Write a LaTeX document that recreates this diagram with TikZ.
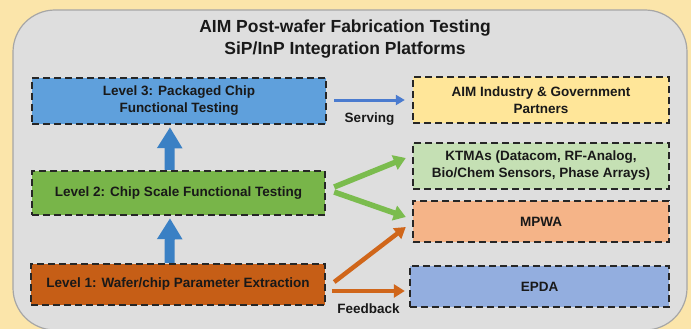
\documentclass[tikz,border=0pt]{standalone}
\usepackage{fontspec}
\setmainfont{Liberation Sans}
\usetikzlibrary{arrows.meta}
\definecolor{bgbeige}{HTML}{FBE5AA}
\definecolor{panelgray}{HTML}{DEDEDE}
\definecolor{panelline}{HTML}{A6A6A6}
\definecolor{lvthree}{HTML}{5FA0DC}
\definecolor{lvtwo}{HTML}{78B549}
\definecolor{lvone}{HTML}{C65E16}
\definecolor{aimfill}{HTML}{FFE699}
\definecolor{ktmafill}{HTML}{C5E0B4}
\definecolor{mpwafill}{HTML}{F5B488}
\definecolor{epdafill}{HTML}{93AEDF}
\definecolor{upblue}{HTML}{3A80C4}
\definecolor{serveblue}{HTML}{4A7BCF}
\definecolor{arrgreen}{HTML}{7BBC4E}
\definecolor{arrorange}{HTML}{D0661A}
\begin{document}
\begin{tikzpicture}[
   x=1pt,y=-1pt,
   font=\bfseries\fontsize{13.5}{17}\selectfont,
   box/.style={draw=black!85,line width=2.4pt,dash pattern=on 7pt off 4pt,inner sep=0pt,align=center},
   up/.style={-{Triangle[width=24pt,length=21pt]},line width=10pt,upblue,shorten >=2pt},
   serve/.style={-{Triangle[width=10pt,length=9pt]},line width=3pt,serveblue},
   kt/.style={-{Triangle[width=15pt,length=12pt]},line width=5.5pt,arrgreen},
   fb/.style={-{Triangle[width=13pt,length=11pt]},line width=4.5pt,arrorange},
   every node/.style={text=black!90}]
\useasboundingbox (0,0) rectangle (691,329);
\fill[bgbeige] (0,0) rectangle (691,329);
\draw[panelline,fill=panelgray,line width=1.2pt,rounded corners=42pt] (13,10) rectangle (687,330);
\node[align=center,font=\bfseries\fontsize{17.5}{22}\selectfont] (title) at (345,39) {AIM Post-wafer Fabrication Testing\\SiP/InP Integration Platforms};
\node[box,fill=lvthree,minimum width=294pt,minimum height=46pt] (L3) at (179,101) {Level 3: Packaged Chip\\Functional Testing};
\node[box,fill=lvtwo,minimum width=293pt,minimum height=44pt] (L2) at (178.5,193) {Level 2: Chip Scale Functional Testing};
\node[box,fill=lvone,minimum width=294pt,minimum height=41pt] (L1) at (178,284.5) {Level 1: Wafer/chip Parameter Extraction};
\node[box,fill=aimfill,minimum width=256pt,minimum height=46pt] (AIM) at (541,100) {AIM Industry \& Government\\Partners};
\node[box,fill=ktmafill,minimum width=256pt,minimum height=46pt] (KTMA) at (541,166) {KTMAs (Datacom, RF-Analog,\\Bio/Chem Sensors, Phase Arrays)};
\node[box,fill=mpwafill,minimum width=256pt,minimum height=41pt] (MPWA) at (541,221.5) {MPWA};
\node[box,fill=epdafill,minimum width=259pt,minimum height=41pt] (EPDA) at (539.5,286.5) {EPDA};
\draw[up] ([xshift=-9pt]L2.north) -- ([xshift=-9pt]L3.south);
\draw[up] ([xshift=-8.5pt]L1.north) -- ([xshift=-8.5pt]L2.south);
\draw[serve] ([xshift=7pt,yshift=1pt]L3.east) -- ([xshift=-7pt]AIM.west) node[midway,below=8pt] (serving) {Serving};
\draw[kt] ([xshift=8pt,yshift=6pt]L2.east) -- ([xshift=-6pt,yshift=8pt]KTMA.west);
\draw[kt] ([xshift=8pt,yshift=1pt]L2.east) -- ([xshift=-6pt,yshift=4.5pt]MPWA.west);
\draw[fb] ([xshift=8pt,yshift=2.5pt]L1.east) -- ([xshift=-6pt,yshift=-5.5pt]MPWA.west);
\draw[fb] ([xshift=6pt,yshift=-6.5pt]L1.east) -- ([xshift=-4pt,yshift=-4.5pt]EPDA.west) node[midway,below=7pt] (feedback) {Feedback};
\end{tikzpicture}
\end{document}
